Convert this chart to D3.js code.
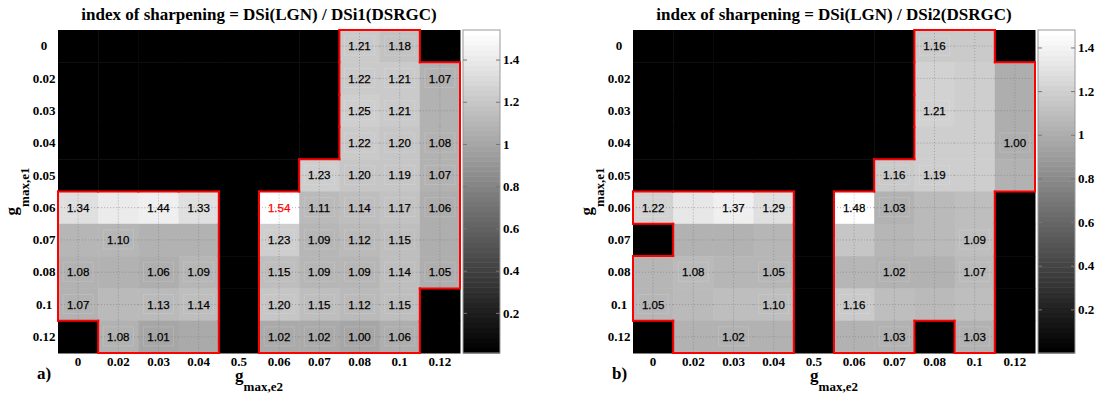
<!DOCTYPE html>
<html>
<head>
<meta charset="utf-8">
<script src="https://cdn.jsdelivr.net/npm/d3@7"></script>
<style>
  body { margin: 0; background: #fff; }
  svg { display: block; }
</style>
</head>
<body>
<svg id="chart" width="1097" height="397"></svg>
<script>
// Axis categories (g_max,e2 across, g_max,e1 down)
const colLabels = ["0", "0.02", "0.03", "0.04", "0.5", "0.06", "0.07", "0.08", "0.1", "0.12"];
const rowLabels = ["0", "0.02", "0.03", "0.04", "0.05", "0.06", "0.07", "0.08", "0.1", "0.12"];

// Sharpening index DSi(LGN) / DSi1(DSRGC); null = no data (drawn black)
const indexA = [
  [null, null, null, null, null, null, null, 1.21, 1.18, null],
  [null, null, null, null, null, null, null, 1.22, 1.21, 1.07],
  [null, null, null, null, null, null, null, 1.25, 1.21, 1.07],
  [null, null, null, null, null, null, null, 1.22, 1.20, 1.08],
  [null, null, null, null, null, null, 1.23, 1.20, 1.19, 1.07],
  [1.34, 1.42, 1.44, 1.33, null, 1.54, 1.11, 1.14, 1.17, 1.06],
  [1.09, 1.10, 1.08, 1.08, null, 1.23, 1.09, 1.12, 1.15, 1.06],
  [1.08, 1.07, 1.06, 1.09, null, 1.15, 1.09, 1.09, 1.14, 1.05],
  [1.07, 1.12, 1.13, 1.14, null, 1.20, 1.15, 1.12, 1.15, null],
  [null, 1.08, 1.01, 1.03, null, 1.02, 1.02, 1.00, 1.06, null]
];

// Sharpening index DSi(LGN) / DSi2(DSRGC)
const indexB = [
  [null, null, null, null, null, null, null, 1.16, 1.17, null],
  [null, null, null, null, null, null, null, 1.22, 1.19, 1.00],
  [null, null, null, null, null, null, null, 1.21, 1.18, 1.01],
  [null, null, null, null, null, null, null, 1.20, 1.18, 1.00],
  [null, null, null, null, null, null, 1.16, 1.19, 1.18, 1.02],
  [1.22, 1.33, 1.37, 1.29, null, 1.48, 1.03, 1.08, 1.10, null],
  [null, 1.04, 1.04, 1.05, null, 1.14, 1.06, 1.07, 1.09, null],
  [1.05, 1.08, 1.05, 1.05, null, 1.06, 1.02, 1.03, 1.07, null],
  [1.05, 1.07, 1.10, 1.10, null, 1.16, 1.09, 1.08, 1.10, null],
  [null, 1.02, 1.02, 1.03, null, 1.04, 1.03, null, 1.03, null]
];

// Cells whose value is printed, as [row, col]
const shownA = [
  [0, 7], [0, 8], [1, 7], [1, 8], [1, 9], [2, 7], [2, 8], [3, 7], [3, 8], [3, 9],
  [4, 6], [4, 7], [4, 8], [4, 9],
  [5, 0], [5, 2], [5, 3], [5, 5], [5, 6], [5, 7], [5, 8], [5, 9],
  [6, 1], [6, 5], [6, 6], [6, 7], [6, 8],
  [7, 0], [7, 2], [7, 3], [7, 5], [7, 6], [7, 7], [7, 8], [7, 9],
  [8, 0], [8, 2], [8, 3], [8, 5], [8, 6], [8, 7], [8, 8],
  [9, 1], [9, 2], [9, 5], [9, 6], [9, 7], [9, 8]
];
const shownB = [
  [0, 7], [2, 7], [3, 9], [4, 6], [4, 7],
  [5, 0], [5, 2], [5, 3], [5, 5], [5, 6],
  [6, 8], [7, 1], [7, 3], [7, 6], [7, 8],
  [8, 0], [8, 3], [8, 5], [9, 2], [9, 6], [9, 8]
];
// Best value, printed in red
const hotA = [[5, 5]];
const hotB = [];

// Colour bar ranges and ticks
const cbDomainA = [0.01, 1.54];
const cbDomainB = [0.0, 1.48];
const cbTicks = [0.2, 0.4, 0.6, 0.8, 1, 1.2, 1.4];

const panels = [
  { letter: "a)", title: "index of sharpening = DSi(LGN) / DSi1(DSRGC)", grid: indexA, shown: shownA, hot: hotA, domain: cbDomainA, left: 58 },
  { letter: "b)", title: "index of sharpening = DSi(LGN) / DSi2(DSRGC)", grid: indexB, shown: shownB, hot: hotB, domain: cbDomainB, left: 633 }
];

const W = 1097, H = 397;
const plotW = 402, plotH = 323, plotTop = 30;
const cbGap = 3, cbW = 37;
const serif = '"Liberation Serif", "Times New Roman", serif';
const sans = '"Liberation Sans", Arial, Helvetica, sans-serif';
const levels = 64;

const svg = d3.select("#chart");
svg.append("rect").attr("width", W).attr("height", H).attr("fill", "#fff");

const grayRamp = d3.range(levels).map(i => {
  const v = Math.round(i / (levels - 1) * 255);
  return d3.rgb(v, v, v).formatHex();
});

panels.forEach(p => {
  const g = svg.append("g");
  const x = d3.scaleBand().domain(d3.range(colLabels.length)).range([p.left, p.left + plotW]);
  const y = d3.scaleBand().domain(d3.range(rowLabels.length)).range([plotTop, plotTop + plotH]);
  const shade = d3.scaleQuantize().domain(p.domain).range(grayRamp);
  const bw = x.bandwidth(), bh = y.bandwidth();

  const cells = [];
  p.grid.forEach((row, r) => row.forEach((v, c) => cells.push({ r, c, v })));
  const filled = (r, c) => r >= 0 && r < p.grid.length && c >= 0 && c < p.grid[0].length && p.grid[r][c] != null;

  // heat cells
  g.append("g").selectAll("rect").data(cells).join("rect")
    .attr("x", d => x(d.c)).attr("y", d => y(d.r))
    .attr("width", bw + 0.5).attr("height", bh + 0.5)
    .attr("fill", d => d.v == null ? "#000" : shade(d.v));

  // dotted grid through tick centres, over data cells only
  const dataCells = cells.filter(d => d.v != null);
  const grid = g.append("g").attr("stroke", "#7a7a7a").attr("stroke-opacity", 0.55)
    .attr("stroke-width", 1).attr("stroke-dasharray", "1,2");
  grid.selectAll("line.h").data(dataCells).join("line").attr("class", "h")
    .attr("x1", d => x(d.c)).attr("x2", d => x(d.c) + bw)
    .attr("y1", d => y(d.r) + bh / 2).attr("y2", d => y(d.r) + bh / 2);
  grid.selectAll("line.v").data(dataCells).join("line").attr("class", "v")
    .attr("x1", d => x(d.c) + bw / 2).attr("x2", d => x(d.c) + bw / 2)
    .attr("y1", d => y(d.r)).attr("y2", d => y(d.r) + bh);

  // red outline around the region with data
  const edges = [];
  dataCells.forEach(d => {
    const x0 = x(d.c), x1 = x(d.c) + bw, y0 = y(d.r), y1 = y(d.r) + bh;
    if (!filled(d.r - 1, d.c)) edges.push([x0, y0, x1, y0]);
    if (!filled(d.r + 1, d.c)) edges.push([x0, y1, x1, y1]);
    if (!filled(d.r, d.c - 1)) edges.push([x0, y0, x0, y1]);
    if (!filled(d.r, d.c + 1)) edges.push([x1, y0, x1, y1]);
  });
  g.append("g").selectAll("line").data(edges).join("line")
    .attr("x1", e => e[0]).attr("y1", e => e[1]).attr("x2", e => e[2]).attr("y2", e => e[3])
    .attr("stroke", "#ff0000").attr("stroke-width", 2).attr("stroke-linecap", "square");

  // printed values
  const isHot = (r, c) => p.hot.some(h => h[0] === r && h[1] === c);
  const labels = p.shown.map(([r, c]) => ({ r, c, v: p.grid[r][c] }));
  const lab = g.append("g");
  lab.selectAll("rect").data(labels).join("rect")
    .attr("x", d => x(d.c) + bw / 2 - 15).attr("y", d => y(d.r) + bh / 2 - 10)
    .attr("width", 30).attr("height", 19)
    .attr("fill", "none").attr("stroke", "#ffffff").attr("stroke-opacity", 0.14);
  lab.selectAll("text").data(labels).join("text")
    .attr("x", d => x(d.c) + bw / 2).attr("y", d => y(d.r) + bh / 2)
    .attr("dy", "0.36em").attr("text-anchor", "middle")
    .attr("font-family", sans).attr("font-size", 11.5)
    .attr("fill", d => isHot(d.r, d.c) ? "#ff0000" : "#000")
    .attr("stroke", d => isHot(d.r, d.c) ? "#ff0000" : "#000")
    .attr("stroke-width", 0.25)
    .text(d => d.v.toFixed(2));

  // x axis
  const ax = g.append("g").attr("transform", `translate(0,${plotTop + plotH})`)
    .call(d3.axisBottom(x).tickFormat(i => colLabels[i]).tickSize(0).tickPadding(4));
  ax.select(".domain").remove();
  ax.selectAll("text").attr("font-family", serif).attr("font-weight", "bold")
    .attr("font-size", 13).attr("fill", "#000");

  // y axis (labels centred in a column left of the plot)
  const ay = g.append("g").attr("transform", `translate(${p.left},0)`)
    .call(d3.axisLeft(y).tickFormat(i => rowLabels[i]).tickSize(0));
  ay.select(".domain").remove();
  ay.selectAll("text").attr("x", -14).attr("text-anchor", "middle")
    .attr("font-family", serif).attr("font-weight", "bold")
    .attr("font-size", 13).attr("fill", "#000");

  // colour bar
  const cbX = p.left + plotW + cbGap;
  const cbY = d3.scaleLinear().domain(p.domain).range([plotTop + plotH, plotTop]);
  const step = (p.domain[1] - p.domain[0]) / levels;
  const bar = g.append("g");
  bar.selectAll("rect").data(d3.range(levels)).join("rect")
    .attr("x", cbX).attr("width", cbW)
    .attr("y", i => cbY(p.domain[0] + (i + 1) * step))
    .attr("height", i => cbY(p.domain[0] + i * step) - cbY(p.domain[0] + (i + 1) * step) + 0.5)
    .attr("fill", i => grayRamp[i]);
  bar.append("rect").attr("x", cbX).attr("y", plotTop).attr("width", cbW).attr("height", plotH)
    .attr("fill", "none").attr("stroke", "#9a9a9a").attr("stroke-width", 1);
  const cbR = bar.append("g").attr("transform", `translate(${cbX + cbW},0)`)
    .call(d3.axisRight(cbY).tickValues(cbTicks).tickFormat(d => String(d)).tickSize(-4).tickPadding(3));
  cbR.select(".domain").remove();
  cbR.selectAll("line").attr("stroke", "#777");
  cbR.selectAll("text").attr("font-family", serif).attr("font-weight", "bold")
    .attr("font-size", 13).attr("fill", "#000");
  const cbL = bar.append("g").attr("transform", `translate(${cbX},0)`)
    .call(d3.axisLeft(cbY).tickValues(cbTicks).tickFormat("").tickSize(-4));
  cbL.select(".domain").remove();
  cbL.selectAll("line").attr("stroke", "#777");

  // title
  g.append("text").attr("x", p.left + plotW / 2).attr("y", 20)
    .attr("text-anchor", "middle").attr("font-family", serif).attr("font-weight", "bold")
    .attr("font-size", 17).text(p.title);

  // panel letter
  g.append("text").attr("x", p.left - 21).attr("y", 379)
    .attr("font-family", serif).attr("font-weight", "bold").attr("font-size", 17)
    .text(p.letter);

  // axis titles with subscripts
  const xl = g.append("text").attr("x", p.left + plotW / 2).attr("y", 381)
    .attr("text-anchor", "middle").attr("font-family", serif).attr("font-weight", "bold");
  xl.append("tspan").attr("font-size", 17).text("g");
  xl.append("tspan").attr("font-size", 13).attr("dy", 10).text("max,e2");

  const yl = g.append("text")
    .attr("transform", `translate(${p.left - 41},${plotTop + plotH / 2}) rotate(-90)`)
    .attr("text-anchor", "middle").attr("font-family", serif).attr("font-weight", "bold");
  yl.append("tspan").attr("font-size", 17).text("g");
  yl.append("tspan").attr("font-size", 13).attr("dy", 12).text("max,e1");
});
</script>
</body>
</html>
